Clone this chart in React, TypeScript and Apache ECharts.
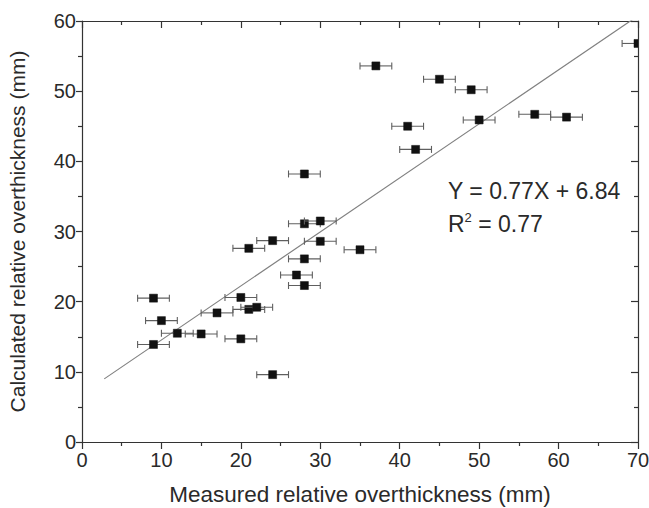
import React, { useEffect, useRef } from "react";
import * as echarts from "echarts";

// Measured relative overthickness (mm)
const xMeasured = [9, 10, 12, 9, 15, 17, 20, 21, 22, 20, 24, 21, 24, 28, 28, 30, 30, 35, 28, 27, 28, 37, 45, 49, 41, 42, 50, 57, 61, 70];
// Calculated relative overthickness (mm)
const yCalculated = [20.5, 17.3, 15.5, 13.9, 15.4, 18.4, 20.6, 18.9, 19.2, 14.7, 9.6, 27.6, 28.7, 38.2, 31.1, 31.5, 28.6, 27.4, 26.1, 23.8, 22.3, 53.6, 51.7, 50.2, 45.0, 41.7, 45.9, 46.7, 46.3, 56.8];
// Horizontal error (mm)
const xError = [2, 2, 2, 2, 2, 2, 2, 2, 2, 2, 2, 2, 2, 2, 2, 2, 2, 2, 2, 2, 2, 2, 2, 2, 2, 2, 2, 2, 2, 2];
// Regression line Y = 0.77X + 6.84
const fitSlope = 0.77;
const fitIntercept = 6.84;
const fitRange = [2.8, 70];
const xTicks = { min: 0, max: 70, interval: 10 };
const yTicks = { min: 0, max: 60, interval: 10 };

const FONT = "'Liberation Sans', Arial, sans-serif";
const TEXT = "#2a2a2a";
const AXIS = "#333333";

export default function App() {
  const ref = useRef<HTMLDivElement>(null);
  useEffect(() => {
    const chart = echarts.init(ref.current!, null, { renderer: "svg" });
    const lineStyle = { color: AXIS, width: 1.2 };
    const baseX = {
      type: "value",
      min: xTicks.min,
      max: xTicks.max,
      interval: xTicks.interval,
      splitLine: { show: false },
      axisLine: { show: true, onZero: false, lineStyle },
    };
    const baseY = {
      type: "value",
      min: yTicks.min,
      max: yTicks.max,
      interval: yTicks.interval,
      splitLine: { show: false },
      axisLine: { show: true, onZero: false, lineStyle },
    };
    const fitData = fitRange.map((x) => [x, fitSlope * x + fitIntercept]);
    const pts = xMeasured.map((x, i) => [x, yCalculated[i], xError[i]]);
    chart.setOption({
      animation: false,
      textStyle: { fontFamily: FONT },
      grid: { left: 82, right: 11, top: 21, bottom: 66, outerBoundsMode: "none", containLabel: false },
      xAxis: [
        {
          ...baseX,
          position: "bottom",
          name: "Measured relative overthickness (mm)",
          nameLocation: "middle",
          nameGap: 41,
          nameTextStyle: { fontSize: 22.5, color: TEXT, fontFamily: FONT },
          axisTick: { show: true, inside: false, length: 7, lineStyle },
          minorTick: { show: true, splitNumber: 2, length: 4, lineStyle },
          axisLabel: { fontSize: 20, color: TEXT, margin: 8, fontFamily: FONT },
        },
        {
          ...baseX,
          position: "top",
          axisTick: { show: true, inside: true, length: 7, lineStyle },
          minorTick: { show: true, splitNumber: 2, length: 4, lineStyle },
          axisLabel: { show: false },
        },
      ],
      yAxis: [
        {
          ...baseY,
          position: "left",
          name: "Calculated relative overthickness (mm)",
          nameLocation: "middle",
          nameGap: 54,
          nameTextStyle: { fontSize: 21, color: TEXT, fontFamily: FONT },
          axisTick: { show: true, inside: false, length: 6, lineStyle },
          minorTick: { show: true, splitNumber: 2, length: 4, lineStyle },
          axisLabel: { fontSize: 20, color: TEXT, margin: 6, fontFamily: FONT },
        },
        {
          ...baseY,
          position: "right",
          axisTick: { show: true, inside: true, length: 7, lineStyle },
          minorTick: { show: true, splitNumber: 2, length: 4, lineStyle },
          axisLabel: { show: false },
        },
      ],
      series: [
        {
          type: "line",
          name: "fit",
          xAxisIndex: 0,
          yAxisIndex: 0,
          data: fitData,
          showSymbol: false,
          symbol: "none",
          clip: true,
          lineStyle: { color: "#808080", width: 1.2 },
          z: 2,
        },
        {
          type: "custom",
          name: "data",
          xAxisIndex: 0,
          yAxisIndex: 0,
          clip: true,
          z: 3,
          data: pts,
          encode: { x: 0, y: 1 },
          renderItem: (params: any, api: any) => {
            const x = api.value(0);
            const y = api.value(1);
            const e = api.value(2);
            const p = api.coord([x, y]);
            const l = api.coord([x - e, y]);
            const r = api.coord([x + e, y]);
            const cap = 3.5;
            const s = { stroke: "#5f5f5f", lineWidth: 1.1 };
            const half = 4;
            return {
              type: "group",
              children: [
                { type: "line", shape: { x1: l[0], y1: l[1], x2: r[0], y2: r[1] }, style: s },
                { type: "line", shape: { x1: l[0], y1: l[1] - cap, x2: l[0], y2: l[1] + cap }, style: s },
                { type: "line", shape: { x1: r[0], y1: r[1] - cap, x2: r[0], y2: r[1] + cap }, style: s },
                {
                  type: "rect",
                  shape: { x: p[0] - half, y: p[1] - half, width: half * 2, height: half * 2 },
                  style: { fill: "#111111", stroke: "#111111", lineWidth: 0.5 },
                },
              ],
            };
          },
        },
      ],
      graphic: [
        {
          type: "text",
          left: 448,
          top: 179,
          style: {
            text: "Y = 0.77X + 6.84",
            fontSize: 23,
            fontFamily: FONT,
            fill: TEXT,
          },
        },
        {
          type: "text",
          left: 448,
          top: 211,
          style: {
            text: "{n|R}{s|2}{n| = 0.77}",
            fontFamily: FONT,
            fill: TEXT,
            rich: {
              n: { fontSize: 23, fontFamily: FONT, fill: TEXT, lineHeight: 25 },
              s: { fontSize: 13, fontFamily: FONT, fill: TEXT, verticalAlign: "top" },
            },
          },
        },
      ],
    });
    return () => chart.dispose();
  }, []);
  return (
    <div
      ref={ref}
      style={{ position: "fixed", left: 0, top: 0, width: 649, height: 508, background: "#fff" }}
    />
  );
}
